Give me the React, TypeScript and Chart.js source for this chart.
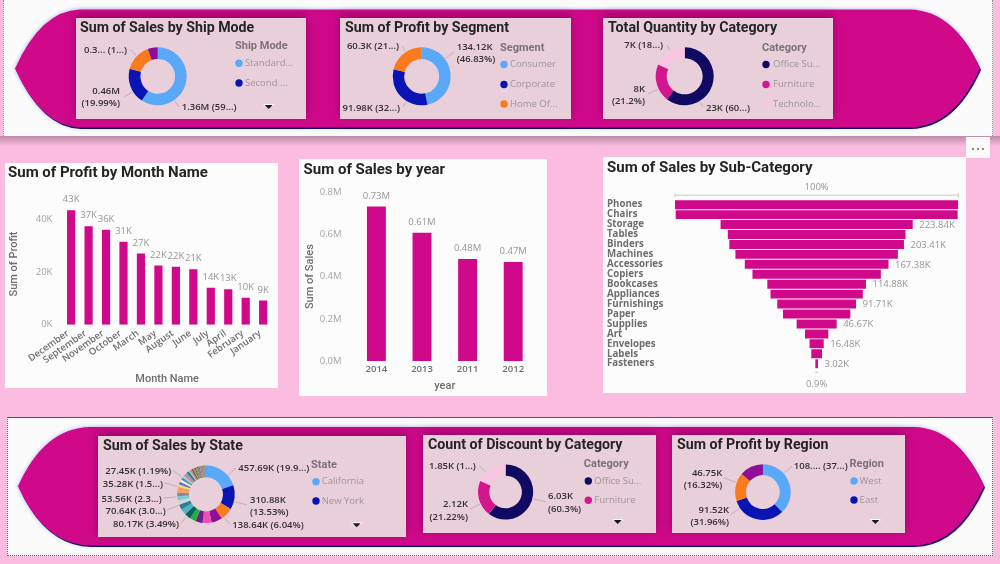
import React, { useEffect, useRef } from "react";
import { Chart, registerables } from "chart.js";

Chart.register(...registerables);

// ---------- data ----------
const shipModes = ["Standard Class", "Second Class", "First Class", "Same Day"];
const shipSales = [1360000, 459000, 351000, 128000];
const shipLabels = [["1.36M (59...)"], ["0.46M", "(19.99%)"], ["0.3... (1...)"]];
const shipLegend = ["Standard...", "Second ..."];

const segments = ["Consumer", "Corporate", "Home Office"];
const segmentProfit = [134120, 91980, 60300];
const segmentLabels = [["134.12K", "(46.83%)"], ["91.98K (32...)"], ["60.3K (21...)"]];
const segmentLegend = ["Consumer", "Corporate", "Home Of..."];

const categories = ["Office Supplies", "Furniture", "Technology"];
const categoryQuantity = [22906, 8028, 6939];
const quantityLabels = [["23K (60...)"], ["8K", "(21.2%)"], ["7K (18...)"]];
const categoryLegend = ["Office Su...", "Furniture", "Technolo..."];

const months = ["December", "September", "November", "October", "March", "May", "August", "June", "July", "April", "February", "January"];
const monthProfit = [43400, 37300, 36000, 31400, 27000, 22400, 22000, 21000, 14000, 13400, 10200, 9200];
const monthTicks = [0, 20000, 40000];

const years = ["2014", "2013", "2011", "2012"];
const yearSales = [733000, 608000, 484000, 470000];

const subCategories = ["Phones", "Chairs", "Storage", "Tables", "Binders", "Machines", "Accessories", "Copiers", "Bookcases", "Appliances", "Furnishings", "Paper", "Supplies", "Art", "Envelopes", "Labels", "Fasteners"];
const subCategorySales = [330010, 328450, 223840, 206970, 203410, 189240, 167380, 149530, 114880, 107530, 91710, 78480, 46670, 27120, 16480, 12490, 3020];

const states = ["California", "New York", "Texas", "Washington", "Pennsylvania", "Florida", "Illinois", "Ohio", "Michigan", "Virginia", "North Carolina", "Indiana", "Georgia", "Kentucky", "New Jersey", "Arizona", "Wisconsin", "Colorado", "Tennessee", "Minnesota", "Massachusetts", "Delaware", "Maryland", "Rhode Island", "Missouri", "Oklahoma", "Alabama", "Oregon", "Nevada", "Connecticut", "Arkansas", "Utah", "Mississippi", "Louisiana", "Vermont", "South Carolina", "Nebraska", "New Hampshire", "Montana", "New Mexico", "Iowa", "Idaho", "Kansas", "District of Columbia", "Wyoming", "South Dakota", "Maine", "West Virginia", "North Dakota"];
const stateSales = [457690, 310880, 170190, 138640, 116510, 89470, 80170, 78260, 76270, 70640, 55600, 53560, 49100, 36590, 35760, 35280, 32110, 32110, 30660, 29860, 28630, 27450, 23700, 22630, 22200, 19680, 19510, 17430, 16730, 13380, 11680, 11220, 10770, 9220, 8930, 8480, 7460, 7290, 5590, 4780, 4580, 4380, 2910, 2870, 1600, 1320, 1270, 1210, 920];
const stateLabels = [["457.69K (19.9...)"], ["310.88K", "(13.53%)"], ["138.64K (6.04%)"], ["80.17K (3.49%)"], ["70.64K (3.0...)"], ["53.56K (2.3...)"], ["35.28K (1.5...)"], ["27.45K (1.19%)"]];
const stateLegend = ["California", "New York"];

const discountCounts = [6030, 2120, 1850];
const discountLabels = [["6.03K", "(60.3%)"], ["2.12K", "(21.22%)"], ["1.85K (1...)"]];
const discountLegend = ["Office Su...", "Furniture"];

const regions = ["West", "East", "South", "Central"];
const regionProfit = [108420, 91520, 46750, 39710];
const regionLabels = [["108.... (37...)"], ["91.52K", "(31.96%)"], ["46.75K", "(16.32%)"]];
const regionLegend = ["West", "East"];

// ---------- styles ----------
const BLUE = "#5aa8f8";
const NAVY = "#0a14b5";
const ORANGE = "#fa7a1e";
const PURPLE = "#8e0e96";
const MAGENTA = "#d0098b";
const THEME = [BLUE, NAVY, ORANGE, PURPLE];
const CAT = ["#100a62", "#d4168e", "#f9c6e0"];
const STATE_COLORS = [
  BLUE, NAVY, ORANGE, PURPLE, "#ee4fb5", "#6a1f8a", "#1fb03a", "#0b5f5c", "#4cb4c4", "#2f7f8f",
  "#c9d8d8", "#7acdd0", "#8a8a8a", "#ff9a6a", "#e8a060", "#f4d96a", "#5a6fc0", "#e8e8e8", "#3a9aa0", "#b0c4c8",
  "#e07aa0", "#5aa8a0", "#25607a", "#9ac0d0", "#d08050", "#406a60", "#b08a60", "#7a5a40", "#90a060", "#60707a",
  "#a07080", "#506090", "#c0a070", "#707050", "#808890", "#906a50", "#607a70", "#a09070", "#6a6a80", "#8a7a60",
  "#708070", "#907070", "#5a5a5a", "#a08a80", "#7a8a9a", "#6a7a5a", "#8a6a7a", "#7a7a7a", "#606060",
];
const TITLE_FONT = "Roboto";
const BODY_FONT = "'Open Sans'";
const TITLE_COLOR = "#252423";
const TICK_GRAY = "#a4a4a4";
const AXIS_GRAY = "#6e6e6e";

type Lbl = { i: number; line: string[]; x: number; y: number; align: CanvasTextAlign; lead: [number, number] };
type Donut = {
  panel: [number, number, number, number];
  title: string; titleX: number; titleY: number;
  labels: string[]; values: number[]; colors: string[];
  cx: number; cy: number; r: number; cut: string;
  text: Lbl[];
  legendTitle: string; legendX: number; dotX: number; textX: number; legendY: number; legend: string[]; legendYs: number[]; legendColors: string[];
  arrow?: [number, number];
};

const donuts: Donut[] = [
  {
    panel: [76, 18, 230, 101], title: "Sum of Sales by Ship Mode", titleX: 80, titleY: 28,
    labels: shipModes, values: shipSales, colors: THEME, cx: 157.7, cy: 76.3, r: 29, cut: "60%",
    text: [
      { i: 0, line: shipLabels[0], x: 181.7, y: 107.3, align: "left", lead: [179, 107] },
      { i: 1, line: shipLabels[1], x: 120, y: 91, align: "right", lead: [124, 97] },
      { i: 2, line: shipLabels[2], x: 127, y: 50, align: "right", lead: [130, 49.5] },
    ],
    legendTitle: "Ship Mode", legendX: 235, dotX: 239, textX: 245, legendY: 46.7, legend: shipLegend, legendYs: [63.3, 83], legendColors: THEME, arrow: [268.7, 107],
  },
  {
    panel: [340, 18, 231, 101], title: "Sum of Profit by Segment", titleX: 345, titleY: 28,
    labels: segments, values: segmentProfit, colors: THEME, cx: 421.7, cy: 76.3, r: 29, cut: "60%",
    text: [
      { i: 0, line: segmentLabels[0], x: 456.7, y: 47, align: "left", lead: [454, 52] },
      { i: 1, line: segmentLabels[1], x: 400, y: 108, align: "right", lead: [403, 107] },
      { i: 2, line: segmentLabels[2], x: 399, y: 46.7, align: "right", lead: [402, 46] },
    ],
    legendTitle: "Segment", legendX: 500, dotX: 504, textX: 510, legendY: 48, legend: segmentLegend, legendYs: [64.5, 84.5, 104], legendColors: THEME,
  },
  {
    panel: [603, 18, 230, 101], title: "Total Quantity by Category", titleX: 608, titleY: 28,
    labels: categories, values: categoryQuantity, colors: CAT, cx: 684.7, cy: 76.3, r: 29, cut: "62%",
    text: [
      { i: 0, line: quantityLabels[0], x: 706, y: 108, align: "left", lead: [703, 107] },
      { i: 1, line: quantityLabels[1], x: 645, y: 89, align: "right", lead: [648, 94] },
      { i: 2, line: quantityLabels[2], x: 663, y: 45.5, align: "right", lead: [667, 45] },
    ],
    legendTitle: "Category", legendX: 762, dotX: 766, textX: 773, legendY: 48, legend: categoryLegend, legendYs: [64.5, 84.5, 104], legendColors: CAT,
  },
  {
    panel: [98, 436, 308, 101], title: "Sum of Sales by State", titleX: 103, titleY: 446.5,
    labels: states, values: stateSales, colors: STATE_COLORS, cx: 206, cy: 494.3, r: 28.8, cut: "59%",
    text: [
      { i: 0, line: stateLabels[0], x: 238.3, y: 468.3, align: "left", lead: [236, 468] },
      { i: 1, line: stateLabels[1], x: 250, y: 500, align: "left", lead: [247, 505] },
      { i: 3, line: stateLabels[2], x: 232.3, y: 525.7, align: "left", lead: [230, 524.5] },
      { i: 6, line: stateLabels[3], x: 179, y: 524.3, align: "right", lead: [181, 523] },
      { i: 9, line: stateLabels[4], x: 165.7, y: 511, align: "right", lead: [167, 510] },
      { i: 11, line: stateLabels[5], x: 161.7, y: 499, align: "right", lead: [164, 498] },
      { i: 15, line: stateLabels[6], x: 163, y: 484.3, align: "right", lead: [165, 483] },
      { i: 21, line: stateLabels[7], x: 171.3, y: 471.3, align: "right", lead: [173, 470.5] },
    ],
    legendTitle: "State", legendX: 311, dotX: 316, textX: 321.7, legendY: 465, legend: stateLegend, legendYs: [481.7, 501], legendColors: THEME, arrow: [356.7, 525.3],
  },
  {
    panel: [423, 435, 233, 98], title: "Count of Discount by Category", titleX: 428, titleY: 445,
    labels: categories, values: discountCounts, colors: CAT, cx: 505.6, cy: 492, r: 27.6, cut: "59%",
    text: [
      { i: 0, line: discountLabels[0], x: 548, y: 496.3, align: "left", lead: [546, 502] },
      { i: 1, line: discountLabels[1], x: 468, y: 504.7, align: "right", lead: [470, 509] },
      { i: 2, line: discountLabels[2], x: 475.8, y: 466.7, align: "right", lead: [479.6, 466] },
    ],
    legendTitle: "Category", legendX: 583.8, dotX: 588.3, textX: 594.3, legendY: 464.3, legend: discountLegend, legendYs: [481, 500.3], legendColors: CAT, arrow: [617.7, 522],
  },
  {
    panel: [672, 435, 233, 98], title: "Sum of Profit by Region", titleX: 677, titleY: 445,
    labels: regions, values: regionProfit, colors: THEME, cx: 762.9, cy: 492, r: 27.8, cut: "61%",
    text: [
      { i: 0, line: regionLabels[0], x: 793.8, y: 466.7, align: "left", lead: [792, 466] },
      { i: 1, line: regionLabels[1], x: 729, y: 510, align: "right", lead: [730.5, 515] },
      { i: 2, line: regionLabels[2], x: 722.3, y: 473, align: "right", lead: [724, 478] },
    ],
    legendTitle: "Region", legendX: 849.4, dotX: 854, textX: 859.6, legendY: 464, legend: regionLegend, legendYs: [481, 500], legendColors: THEME, arrow: [875.4, 522],
  },
];

function donutConfig(d: Donut): any {
  const [px, py, pw, ph] = d.panel;
  const annotate = {
    id: "annotate",
    afterDraw(chart: any) {
      const ctx = chart.ctx;
      ctx.save();
      ctx.translate(-px, -py);
      ctx.textBaseline = "middle";
      ctx.textAlign = "left";
      ctx.fillStyle = TITLE_COLOR;
      ctx.font = `bold 14.2px ${TITLE_FONT}`;
      ctx.fillText(d.title, d.titleX, d.titleY);
      const arcs = chart.getDatasetMeta(0).data;
      for (const t of d.text) {
        const arc = arcs[t.i];
        const ax = arc.x + px;
        const ay = arc.y + py;
        const dx = t.lead[0] - ax;
        const dy = t.lead[1] - ay;
        const len = Math.hypot(dx, dy);
        const R = arc.outerRadius + 1;
        ctx.strokeStyle = "#b5a8b0";
        ctx.lineWidth = 0.8;
        ctx.beginPath();
        ctx.moveTo(ax + (dx / len) * R, ay + (dy / len) * R);
        ctx.lineTo(t.lead[0], t.lead[1]);
        ctx.stroke();
        ctx.fillStyle = "#343034";
        ctx.font = `600 9.5px ${BODY_FONT}`;
        ctx.textAlign = t.align;
        t.line.forEach((s, k) => ctx.fillText(s, t.x, t.y + k * 12.6));
      }
      ctx.textAlign = "left";
      ctx.fillStyle = "#7d7279";
      ctx.font = `bold 11px ${TITLE_FONT}`;
      ctx.fillText(d.legendTitle, d.legendX, d.legendY);
      d.legend.forEach((s, k) => {
        ctx.fillStyle = d.legendColors[k];
        ctx.beginPath();
        ctx.arc(d.dotX, d.legendYs[k], 3.7, 0, Math.PI * 2);
        ctx.fill();
        ctx.fillStyle = "#a0959c";
        ctx.font = `9.5px ${BODY_FONT}`;
        ctx.fillText(s, d.textX, d.legendYs[k]);
      });
      if (d.arrow) {
        const [ax, ay] = d.arrow;
        ctx.fillStyle = "#ffffff";
        ctx.fillRect(ax - 5, ay - 3, 10, 2);
        ctx.fillStyle = "#1a1a1a";
        ctx.beginPath();
        ctx.moveTo(ax - 4, ay - 2);
        ctx.lineTo(ax + 4, ay - 2);
        ctx.lineTo(ax, ay + 2);
        ctx.closePath();
        ctx.fill();
      }
      ctx.restore();
    },
  };
  return {
    type: "doughnut",
    data: { labels: d.labels, datasets: [{ data: d.values, backgroundColor: d.colors, borderWidth: 0 }] },
    options: {
      responsive: false,
      animation: false,
      cutout: d.cut,
      layout: {
        padding: {
          left: d.cx - d.r - px,
          right: px + pw - d.cx - d.r,
          top: d.cy - d.r - py,
          bottom: py + ph - d.cy - d.r,
        },
      },
      plugins: { legend: { display: false }, tooltip: { enabled: false } },
    },
    plugins: [annotate],
  };
}

const valueLabels = (fmt: (v: number) => string) => ({
  id: "valueLabels",
  afterDatasetsDraw(chart: any) {
    const ctx = chart.ctx;
    const vals = chart.data.datasets[0].data;
    ctx.save();
    ctx.fillStyle = "#959595";
    ctx.font = `9.5px ${BODY_FONT}`;
    ctx.textAlign = "center";
    ctx.textBaseline = "middle";
    chart.getDatasetMeta(0).data.forEach((el: any, i: number) => {
      ctx.fillText(fmt(vals[i]), el.x, el.y - 10.6);
    });
    ctx.restore();
  },
});

const titleOpts = (text: string, bottom: number) => ({
  display: true,
  text,
  align: "start",
  color: TITLE_COLOR,
  font: { family: "Roboto", size: 15, weight: "bold", lineHeight: 1.2 },
  padding: { top: 0, bottom },
});

const monthConfig: any = {
  type: "bar",
  data: { labels: months, datasets: [{ data: monthProfit, backgroundColor: MAGENTA, barPercentage: 0.47, categoryPercentage: 1 }] },
  options: {
    responsive: false,
    animation: false,
    layout: { padding: { left: 3, right: 6.1, top: 1, bottom: 2.5 } },
    plugins: { legend: { display: false }, tooltip: { enabled: false }, title: titleOpts("Sum of Profit by Month Name", 21.3) },
    scales: {
      x: {
        grid: { display: false, drawTicks: false }, border: { display: false },
        afterFit: (s: any) => { s.height = 60.8; },
        ticks: { autoSkip: false, minRotation: 35, maxRotation: 35, labelOffset: -3, color: AXIS_GRAY, font: { family: "'Open Sans'", size: 9.5, weight: 600 }, padding: 3 },
        title: { display: true, text: "Month Name", color: AXIS_GRAY, font: { family: "Roboto", size: 11, weight: 500 }, padding: 0 },
      },
      y: {
        min: 0, max: 46000, grid: { display: false, drawTicks: false }, border: { display: false },
        afterFit: (s: any) => { s.width = 54.4; },
        afterBuildTicks: (s: any) => { s.ticks = monthTicks.map((value) => ({ value })); },
        ticks: { padding: 10, color: TICK_GRAY, font: { family: "'Open Sans'", size: 9.5 }, callback: (v: any) => `${Number(v) / 1000}K` },
        title: { display: true, text: "Sum of Profit", color: AXIS_GRAY, font: { family: "Roboto", size: 11, weight: 500 }, padding: 0 },
      },
    },
  },
  plugins: [valueLabels((v) => `${Math.round(v / 1000)}K`)],
};

const yearConfig: any = {
  type: "bar",
  data: { labels: years, datasets: [{ data: yearSales, backgroundColor: MAGENTA, barPercentage: 0.415, categoryPercentage: 1 }] },
  options: {
    responsive: false,
    animation: false,
    layout: { padding: { left: 4.6, right: 11, top: 2, bottom: 3.1 } },
    plugins: { legend: { display: false }, tooltip: { enabled: false }, title: titleOpts("Sum of Sales by year", 13.3) },
    scales: {
      x: {
        grid: { display: false, drawTicks: false }, border: { display: false },
        afterFit: (s: any) => { s.height = 31.9; },
        ticks: { color: AXIS_GRAY, font: { family: "'Open Sans'", size: 9.5, weight: 600 }, padding: 3 },
        title: { display: true, text: "year", color: AXIS_GRAY, font: { family: "Roboto", size: 11, weight: 500 }, padding: 0 },
      },
      y: {
        min: 0, max: 800000, grid: { display: false, drawTicks: false }, border: { display: false },
        afterFit: (s: any) => { s.width = 50; },
        ticks: { stepSize: 200000, padding: 12, color: TICK_GRAY, font: { family: "'Open Sans'", size: 9.5 }, callback: (v: any) => `${(Number(v) / 1000000).toFixed(1)}M` },
        title: { display: true, text: "Sum of Sales", color: AXIS_GRAY, font: { family: "Roboto", size: 11, weight: 500 }, padding: 0 },
      },
    },
  },
  plugins: [valueLabels((v) => `${(v / 1000000).toFixed(2)}M`)],
};

const funnelMax = subCategorySales[0];
const funnelLabels = {
  id: "funnelLabels",
  afterDatasetsDraw(chart: any) {
    const ctx = chart.ctx;
    const els = chart.getDatasetMeta(0).data;
    const area = chart.chartArea;
    const mid = (area.left + area.right) / 2;
    ctx.save();
    ctx.fillStyle = "#959595";
    ctx.font = `9.5px ${BODY_FONT}`;
    ctx.textBaseline = "middle";
    ctx.textAlign = "left";
    els.forEach((el: any, i: number) => {
      if (i >= 2 && i % 2 === 0) ctx.fillText(`${(subCategorySales[i] / 1000).toFixed(2)}K`, el.x + 6.5, el.y + 0.5);
    });
    ctx.textAlign = "center";
    const first = els[0];
    const last = els[els.length - 1];
    const topY = first.y - first.height / 2 - 5;
    ctx.fillText("100%", mid, topY - 7.5);
    const pct = (subCategorySales[subCategorySales.length - 1] / funnelMax) * 100;
    const botY = last.y + last.height / 2 + 4;
    ctx.fillText(`${pct.toFixed(1)}%`, mid, botY + 12);
    ctx.strokeStyle = "#c8c8c8";
    ctx.lineWidth = 1;
    ctx.beginPath();
    ctx.moveTo(area.left, topY);
    ctx.lineTo(area.right, topY);
    ctx.moveTo(area.left, topY - 2);
    ctx.lineTo(area.left, topY + 2);
    ctx.moveTo(area.right, topY - 2);
    ctx.lineTo(area.right, topY + 2);
    ctx.moveTo(mid - 1.5, botY);
    ctx.lineTo(mid + 1.5, botY);
    ctx.stroke();
    ctx.restore();
  },
};

const funnelConfig: any = {
  type: "bar",
  data: {
    labels: subCategories,
    datasets: [{
      data: subCategorySales.map((v) => [(funnelMax - v) / 2, (funnelMax + v) / 2]),
      backgroundColor: MAGENTA,
      barPercentage: 0.9,
      categoryPercentage: 1,
    }],
  },
  options: {
    indexAxis: "y",
    responsive: false,
    animation: false,
    layout: { padding: { left: 4, right: 7.7, top: 2, bottom: 24.3 } },
    plugins: { legend: { display: false }, tooltip: { enabled: false }, title: titleOpts("Sum of Sales by Sub-Category", 22.7) },
    scales: {
      x: { display: false, min: 0, max: funnelMax },
      y: {
        grid: { display: false, drawTicks: false }, border: { display: false },
        afterFit: (s: any) => { s.width = 68; },
        ticks: { autoSkip: false, crossAlign: "far", color: AXIS_GRAY, padding: 0, font: { family: "'Open Sans'", size: 9.7, weight: 700 } },
      },
    },
  },
  plugins: [funnelLabels],
};

// ---------- components ----------
function ChartCanvas({ x, y, w, h, config }: { x: number; y: number; w: number; h: number; config: any }) {
  const ref = useRef<HTMLCanvasElement | null>(null);
  useEffect(() => {
    const chart = new Chart(ref.current as HTMLCanvasElement, config);
    return () => chart.destroy();
  }, [config]);
  return <canvas ref={ref} width={w} height={h} style={{ position: "absolute", left: x, top: y, width: w, height: h, display: "block" }} />;
}

function Ribbon({ l, r, t, b, lj, rj }: { l: number; r: number; t: number; b: number; lj: number; rj: number }) {
  const m = (t + b) / 2;
  const shape = `M${lj},${t} L${rj},${t} Q${r - 26},${t + 1} ${r},${m} Q${r - 26},${b - 1} ${rj},${b} L${lj},${b} Q${l + 26},${b - 1} ${l},${m} Q${l + 26},${t + 1} ${lj},${t} Z`;
  return (
    <svg width={1000} height={564} style={{ position: "absolute", left: 0, top: 0 }}>
      <path d={shape} fill="#8a8ae0" stroke="#8a8ae0" strokeWidth={2.5} opacity={0.4} style={{ filter: "blur(1.5px)" }} />
      <path d={shape} fill="#14146e" transform="translate(1,1.5)" />
      <path d={shape} fill={MAGENTA} />
    </svg>
  );
}

const panelStyle = (x: number, y: number, w: number, h: number): React.CSSProperties => ({
  position: "absolute", left: x, top: y, width: w, height: h, background: "#e8cfda",
  boxShadow: "0 -3px 9px rgba(110,0,70,0.6)",
});

const donutCfgs = new Map(donuts.map((d) => [d, donutConfig(d)]));

export default function App() {
  return (
    <div style={{ position: "fixed", left: 0, top: 0, width: 1000, height: 564, overflow: "hidden", background: "#fcbcdf", filter: "blur(0.35px)" }}>
      {/* top band */}
      <div style={{ position: "absolute", left: 3, top: 0, width: 988, height: 136, background: "#fbfbfb", borderLeft: "1px dotted #b07a98", borderRight: "1px dotted #b07a98" }} />
      <div style={{ position: "absolute", left: 0, top: 136, width: 1000, height: 10, background: "linear-gradient(#bb8aa5, #fcbcdf)" }} />
      {/* bottom band */}
      <div style={{ position: "absolute", left: 7, top: 417, width: 984, height: 137, background: "#fbfbfb", borderTop: "1px solid #555", borderBottom: "1px dotted #666", borderLeft: "1px dotted #666", borderRight: "1px dotted #666" }} />
      <Ribbon l={15} r={980} t={9.5} b={127.5} lj={80} rj={910} />
      <Ribbon l={18} r={984} t={427} b={545.5} lj={90} rj={914} />
      {/* more button */}
      <div style={{ position: "absolute", left: 966, top: 137, width: 24, height: 21, background: "#fbfbfb" }}>
        <svg width={24} height={21}>
          <circle cx={7} cy={12} r={1} fill="#666" />
          <circle cx={12} cy={12} r={1} fill="#666" />
          <circle cx={17} cy={12} r={1} fill="#666" />
        </svg>
      </div>
      {donuts.map((d) => (
        <div key={d.title} style={panelStyle(d.panel[0], d.panel[1], d.panel[2], d.panel[3])} />
      ))}
      {donuts.map((d) => (
        <ChartCanvas key={d.title} x={d.panel[0]} y={d.panel[1]} w={d.panel[2]} h={d.panel[3]} config={donutCfgs.get(d)} />
      ))}
      <div style={{ position: "absolute", left: 5, top: 163, width: 273, height: 225, background: "#fcfcfc" }} />
      <div style={{ position: "absolute", left: 299, top: 159, width: 248, height: 237, background: "#fcfcfc" }} />
      <div style={{ position: "absolute", left: 603, top: 157, width: 363, height: 236, background: "#fcfcfc" }} />
      <ChartCanvas x={5} y={163} w={273} h={225} config={monthConfig} />
      <ChartCanvas x={299} y={159} w={248} h={237} config={yearConfig} />
      <ChartCanvas x={603} y={157} w={363} h={236} config={funnelConfig} />
    </div>
  );
}
